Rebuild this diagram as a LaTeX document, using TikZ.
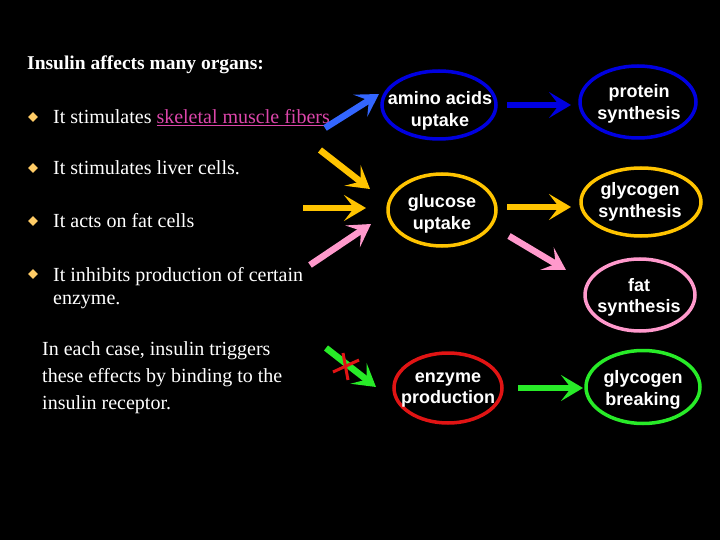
\documentclass[tikz,border=0pt]{standalone}
\usepackage{fontspec}
\setmainfont{Liberation Serif}
\newfontfamily\ellfont{Liberation Sans}
\usetikzlibrary{arrows.meta,shapes.geometric}
\definecolor{dblue}{RGB}{0,0,225}
\definecolor{lblue}{RGB}{51,102,255}
\definecolor{amber}{RGB}{255,196,0}
\definecolor{pinkc}{RGB}{255,153,204}
\definecolor{redc}{RGB}{225,20,20}
\definecolor{greenc}{RGB}{40,235,40}
\definecolor{bulletc}{RGB}{255,204,102}
\definecolor{linkc}{RGB}{220,70,170}
\tikzset{
  oval/.style={ellipse, draw=#1, line width=3.5pt, inner sep=0pt},
  ovaltxt/.style={text=white, inner sep=0pt,
     font=\ellfont\bfseries\fontsize{18}{21.5}\selectfont, align=center},
  arr/.style={draw=#1, line width=6.5pt,
     -{Stealth[length=22pt,width=26pt,inset=10pt]}},
  txt/.style={anchor=base west, text=white, inner sep=0pt,
     font=\fontsize{20}{24}\selectfont},
  bul/.style={diamond, fill=bulletc, inner sep=0pt, minimum size=10pt},
  cross/.style={draw=redc, line width=3pt}
}
\begin{document}
\begin{tikzpicture}[x=1pt,y=-1pt]
\fill[black] (0,0) rectangle (720,540);
\useasboundingbox (0,0) rectangle (720,540);

% left texts
\node[txt, font=\bfseries\fontsize{19.5}{22}\selectfont] (title) at (27,70) {Insulin affects many organs:};
\node[bul] (b1) at (33,117) {};
\node[txt] (t1) at (53,124) {It stimulates \textcolor{linkc}{\underline{skeletal muscle fibers}}};
\node[bul] (b2) at (33,168) {};
\node[txt] (t2) at (53,175) {It stimulates liver cells.};
\node[bul] (b3) at (33,221) {};
\node[txt] (t3) at (53,228) {It acts on fat cells};
\node[bul] (b4) at (33,274) {};
\node[txt] (t4) at (53,281) {It inhibits production of certain};
\node[txt] (t4b) at (53,304) {enzyme.};
\node[txt] (p1) at (42,355) {In each case, insulin triggers};
\node[txt] (p2) at (42,382) {these effects by binding to the};
\node[txt] (p3) at (42,409) {insulin receptor.};

% ellipses
\node[oval=dblue, minimum width=114pt, minimum height=68pt] (amino) at (439,105) {};
\node[oval=dblue, minimum width=116pt, minimum height=72pt] (protein) at (638,102) {};
\node[oval=amber, minimum width=108pt, minimum height=72pt] (glucose) at (442,210) {};
\node[oval=amber, minimum width=120pt, minimum height=68pt] (glysyn) at (641,202) {};
\node[oval=pinkc, minimum width=110pt, minimum height=72pt] (fat) at (640,295) {};
\node[oval=redc, minimum width=108pt, minimum height=70pt] (enzyme) at (448,388) {};
\node[oval=greenc, minimum width=114pt, minimum height=73pt] (glybrk) at (643,387) {};

\node[ovaltxt] (aminot) at (440,111) {amino acids\\uptake};
\node[ovaltxt] (proteint) at (639,104) {protein\\synthesis};
\node[ovaltxt] (glucoset) at (442,214) {glucose\\uptake};
\node[ovaltxt] (glysynt) at (640,202) {glycogen\\synthesis};
\node[ovaltxt] (fatt) at (639,297.5) {fat\\synthesis};
\node[ovaltxt] (enzymet) at (448,390) {enzyme\\production};
\node[ovaltxt] (glybrkt) at (643,390) {glycogen\\breaking};

% arrow end coordinates
\coordinate (s1) at (325,128); \coordinate (e1) at (379,94);
\coordinate (s2) at (320,150); \coordinate (e2) at (370,189);
\coordinate (s3) at (303,208); \coordinate (e3) at (366,208);
\coordinate (s4) at (310,265); \coordinate (e4) at (371,224);
\coordinate (s5) at (326,348); \coordinate (e5) at (376,387);
\coordinate (a1) at (507,105); \coordinate (a2) at (571,105);
\coordinate (g1) at (507,207); \coordinate (g2) at (571,207);
\coordinate (f1) at (509,236); \coordinate (f2) at (566,270);
\coordinate (r1) at (518,388); \coordinate (r2) at (583,388);

\draw[arr=lblue] (s1) -- (e1);
\draw[arr=amber] (s2) -- (e2);
\draw[arr=amber] (s3) -- (e3);
\draw[arr=pinkc] (s4) -- (e4);
\draw[arr=greenc] (s5) -- (e5);
\draw[arr=dblue] (a1) -- (a2);
\draw[arr=amber] (g1) -- (g2);
\draw[arr=pinkc] (f1) -- (f2);
\draw[arr=greenc] (r1) -- (r2);

% red cross
\coordinate (x1) at (333,372); \coordinate (x2) at (359,360);
\coordinate (x3) at (343,353); \coordinate (x4) at (348,380);
\draw[cross] (x1) -- (x2);
\draw[cross] (x3) -- (x4);
\end{tikzpicture}
\end{document}
